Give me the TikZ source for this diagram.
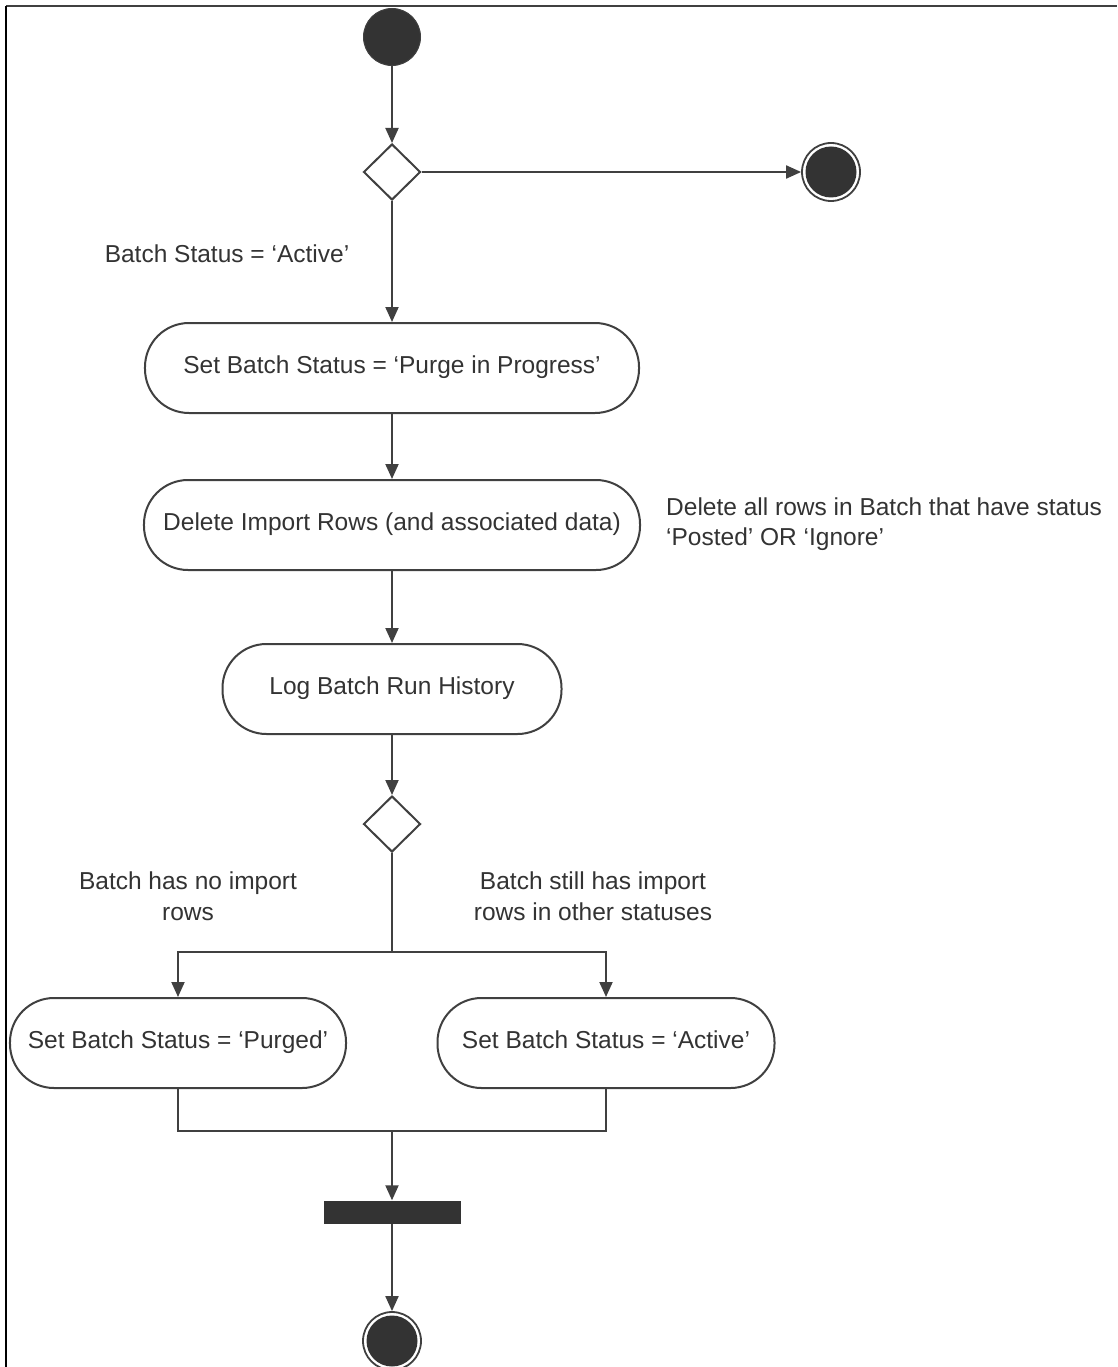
\documentclass[tikz,border=0pt]{standalone}
\usepackage{fontspec}
\setmainfont{Liberation Sans}
\usetikzlibrary{arrows.meta,shapes.geometric}
\definecolor{ink}{HTML}{333333}
\definecolor{lin}{HTML}{404040}
\begin{document}
\begin{tikzpicture}[x=1bp,y=-1bp,
  font=\fontsize{24.5bp}{30.5bp}\selectfont,
  conn/.style={draw=lin,line width=2bp},
  arr/.style={conn,-{Triangle[length=15bp,width=13bp]}},
  activity/.style={draw=lin,line width=2bp,rectangle,rounded corners=44bp,minimum height=90bp,inner sep=0pt,text=ink,text height=1.12em,text depth=0pt},
  startc/.style={circle,fill=ink,draw=lin,line width=1bp,minimum size=57bp,inner sep=0pt},
  ring/.style={circle,draw=lin,line width=1.8bp,minimum size=58bp,inner sep=0pt},
  core/.style={circle,fill=ink,minimum size=51bp,inner sep=0pt},
  decision/.style={diamond,draw=lin,line width=2bp,minimum width=57bp,minimum height=56bp,inner sep=0pt,fill=white},
  lbl/.style={text=ink,align=center,inner sep=0pt},
  bar/.style={rectangle,fill=ink,minimum width=137bp,minimum height=23bp,inner sep=0pt}]
\useasboundingbox (0,0) rectangle (1117,1367);
\fill[white] (0,0) rectangle (1117,1367);
% frame
\draw[lin,line width=2bp] (6,6) -- (1117,6);
\draw[black,line width=2bp] (6,6) -- (6,1367);

\node[startc] (start) at (392,37) {};
\node[decision] (d1) at (392,172) {};
\node[ring] (end1) at (831,172) {};
\node[core] (end1i) at (831,172) {};
\node[lbl] (l1) at (227,254) {Batch Status = ‘Active’};
\node[activity,minimum width=494bp] (a1) at (392,368) {Set Batch Status = ‘Purge in Progress’};
\node[activity,minimum width=496bp] (a2) at (392,525) {Delete Import Rows (and associated data)};
\node[lbl,align=left,anchor=west] (note) at (666,524) {Delete all rows in Batch that have status\\‘Posted’ OR ‘Ignore’};
\node[activity,minimum width=339bp] (a3) at (392,689) {Log Batch Run History};
\node[decision] (d2) at (392,824) {};
\node[lbl] (l2) at (188,896) {Batch has no import\\rows};
\node[lbl] (l3) at (593,896) {Batch still has import\\rows in other statuses};
\node[activity,minimum width=336bp] (a4) at (178,1043) {Set Batch Status = ‘Purged’};
\node[activity,minimum width=337bp] (a5) at (606,1043) {Set Batch Status = ‘Active’};
\node[bar] (join) at (392,1212) {};
\node[ring] (end2) at (392,1341) {};
\node[core] (end2i) at (392,1341) {};

\coordinate (split) at (392,952);
\coordinate (merge) at (392,1131);

\draw[arr] (start) -- (d1);
\draw[arr] (d1) -- (end1);
\draw[arr] (d1) -- (a1);
\draw[arr] (a1) -- (a2);
\draw[arr] (a2) -- (a3);
\draw[arr] (a3) -- (d2);
\draw[conn] (d2) -- (split);
\draw[arr] (split) -| (a4);
\draw[arr] (split) -| (a5);
\draw[conn] (a4) |- (merge);
\draw[conn] (a5) |- (merge);
\draw[arr] (merge) -- (join);
\draw[arr] (join) -- (end2);
\end{tikzpicture}
\end{document}
